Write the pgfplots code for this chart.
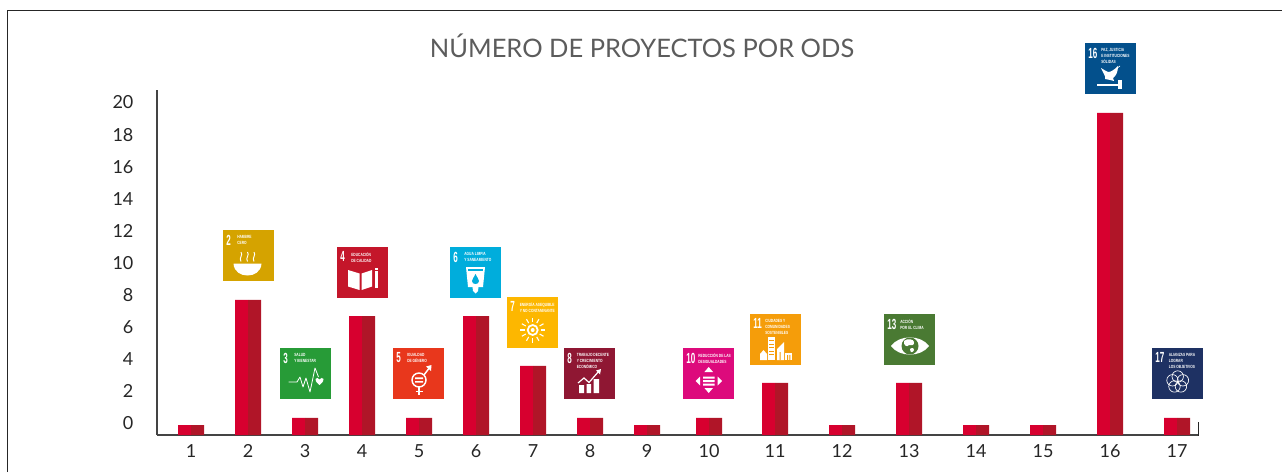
\documentclass[border=0pt]{standalone}
\usepackage{fontspec}
\setmainfont{Lato}
\newfontfamily\sdgf{Liberation Sans}[FakeStretch=0.72]
\newfontfamily\sdgn{Liberation Sans}[FakeStretch=0.55]
\usepackage{pgfplots}
\usepackage{pgfplotstable}
\pgfplotsset{compat=1.18}
\definecolor{barL}{HTML}{D7002F}
\definecolor{barR}{HTML}{B01528}
\definecolor{axisc}{HTML}{444444}
\definecolor{txt}{HTML}{262626}
\definecolor{ttl}{HTML}{5C5C5C}
\definecolor{sA}{HTML}{D5A300}
\definecolor{sB}{HTML}{279B37}
\definecolor{sC}{HTML}{C4162A}
\definecolor{sD}{HTML}{E8371C}
\definecolor{sE}{HTML}{00ADDC}
\definecolor{sF}{HTML}{FDB700}
\definecolor{sG}{HTML}{8F1733}
\definecolor{sH}{HTML}{DD0A7C}
\definecolor{sI}{HTML}{F59D0A}
\definecolor{sJ}{HTML}{4A7A33}
\definecolor{sK}{HTML}{03508C}
\definecolor{sL}{HTML}{1E3163}
\pgfplotstableread{
x v
191 0
248 7.79
305 0.44
362 6.79
419 0.44
476 6.79
533 3.68
590 0.44
647 0
709 0.44
775 2.62
842 0
909 2.62
976 0
1043 0
1110 19.44
1177 0.44
}\odsdata
% one SDG tile: x, y (image pixels), colour, number, offset of the label, label, glyph
\newcommand{\sdg}[7]{%
\begin{scope}[shift={(#1,#2)}]
\fill[#3] (0,0) rectangle (51,51);
\node[anchor=north west,inner sep=0pt,text=white,font=\sdgn\bfseries\fontsize{11}{11}\selectfont] at (3,4.5) {#4};
\node[anchor=north west,inner sep=0pt,text=white,align=left,font=\sdgf\bfseries\fontsize{3.4}{4.5}\selectfont] at (#5,5) {#6};
#7
\end{scope}}
\begin{document}
\begin{tikzpicture}
\useasboundingbox (0,0) rectangle (961.5pt,354pt);
\begin{axis}[
  at={(117.75pt,27.75pt)},anchor=south west,
  scale only axis,width=781.5pt,height=258.75pt,
  clip=false,
  axis x line=bottom,axis y line=left,
  axis line style={-,draw=axisc,line width=1.2pt},
  y coord trafo/.code={\pgfmathparse{#1+0.623}},
  xmin=157,xmax=1199,ymin=-0.623,ymax=20.87,
  ybar,bar width=9.75pt,
  major tick length=0pt,
  xtick={191,248,305,362,419,476,533,590,647,709,775,842,909,976,1043,1110,1177},
  xticklabels={1,2,3,4,5,6,7,8,9,10,11,12,13,14,15,16,17},
  ytick={0,2,4,6,8,10,12,14,16,18,20},
  yticklabels={0,2,4,6,8,10,12,14,16,18,20},
  x tick label style={anchor=north,inner sep=0pt,yshift=-6.75pt,font=\fontsize{13.5}{14}\selectfont,text=txt},
  y tick label style={anchor=east,inner sep=0pt,xshift=-17.5pt,yshift=1.1pt,font=\fontsize{13.5}{14}\selectfont,text=txt},
]
\addplot[draw=none,fill=barL,bar shift=-4.875pt] table[x=x,y=v] {\odsdata};
\addplot[draw=none,fill=barR,bar shift=4.875pt] table[x=x,y=v] {\odsdata};
\end{axis}
\begin{scope}[x=0.75pt,y=-0.75pt,shift={(0pt,354pt)}]
\draw[txt,line width=0.9pt] (7.5,472)--(7.5,10.5)--(1282,10.5);
\draw[txt,line width=0.8pt] (1198.5,422)--(1198.5,435.5);
\node[text=ttl,font=\fontsize{19.1}{21}\selectfont] at (642,46) {NÚMERO DE PROYECTOS POR ODS};
\sdg{223}{230}{sA}{2}{14}{HAMBRE\\CERO}{%
 \fill[white] (10.5,33.5) .. controls (11,42) and (18,45.5) .. (24.5,45.5) .. controls (31,45.5) and (38,42) .. (38.5,33.5) -- cycle;
 \foreach \q in {18,24.5,31}{\draw[white,line width=0.7pt] (\q,22) .. controls (\q+2.5,25) and (\q-2.5,28) .. (\q,31.5);}}
\sdg{280}{348}{sB}{3}{14}{SALUD\\Y BIENESTAR}{%
 \draw[white,line width=0.6pt,line join=round] (8.7,34)--(17,34)--(20,29)--(23,39)--(26,30)--(30,44)--(35,20)--(38.5,29);
 \fill[white] (39.5,37) .. controls (36,34) and (35,32.5) .. (35.5,31) .. controls (36,29.5) and (38.5,29.5) .. (39.5,31.5) .. controls (40.5,29.5) and (43,29.5) .. (43.5,31) .. controls (44,32.5) and (43,34) .. (39.5,37) -- cycle;}
\sdg{337}{247}{sC}{4}{14}{EDUCACIÓN\\DE CALIDAD}{%
 \fill[white] (11,23)--(22.5,26.5)--(22.5,43)--(11,39.5)--cycle;
 \fill[white] (24.5,26.5)--(35,23)--(35,39.5)--(24.5,43)--cycle;
 \fill[white] (37.5,24) rectangle (40.5,41);
 \fill[white] (37.5,21) rectangle (40.5,23);}
\sdg{393}{348}{sD}{5}{14}{IGUALDAD\\DE GÉNERO}{%
 \draw[white,line width=1.1pt] (26,32) circle [radius=7];
 \draw[white,line width=1.1pt] (26,39)--(26,47) (22.5,43.5)--(29.5,43.5);
 \draw[white,line width=1.1pt] (31,27)--(37,19);
 \fill[white] (38.5,17)--(33,18.5)--(38,23)--cycle;
 \fill[white] (22,29.3) rectangle (30,31) (22,33) rectangle (30,34.7);}
\sdg{450}{247}{sE}{6}{14}{AGUA LIMPIA\\Y SANEAMIENTO}{%
 \fill[white] (16,20)--(35,20)--(33,40)--(28.5,40)--(28,44)--(25.5,46.5)--(23,44)--(22.5,40)--(18,40)--cycle;
 \fill[sE] (18,22) rectangle (33,23.5);
 \fill[sE] (25.5,27) .. controls (27,30.5) and (29,32) .. (29,34) .. controls (29,38) and (22,38) .. (22,34) .. controls (22,32) and (24,30.5) .. (25.5,27) -- cycle;}
\sdg{507}{297}{sF}{7}{12.5}{ENERGÍA ASEQUIBLE\\Y NO CONTAMINANTE}{%
 \draw[white,line width=1.3pt] (25.7,33) circle [radius=5];
 \fill[white] (25.7,33) circle [radius=2];
 \foreach \a in {0,30,...,330}{\draw[white,line width=0.8pt] ({25.7+8*cos(\a)},{33+8*sin(\a)})--({25.7+12.5*cos(\a)},{33+12.5*sin(\a)});}}
\sdg{564}{348}{sG}{8}{12.5}{TRABAJO DECENTE\\Y CRECIMIENTO\\ECONÓMICO}{%
 \fill[white] (15,37) rectangle (20,45) (22.5,36) rectangle (27,45) (29.5,31) rectangle (35,45);
 \draw[white,line width=0.9pt] (14,35)--(20,30)--(25,34.5)--(35,23);
 \fill[white] (37,21)--(32,22.5)--(36,26.5)--cycle;}
\sdg{683}{348}{sH}{10}{15}{REDUCCIÓN DE LAS\\DESIGUALDADES}{%
 \fill[white] (20,28.5) rectangle (31.5,30.5) (20,32) rectangle (31.5,34) (20,35.5) rectangle (31.5,37.5);
 \fill[white] (25.7,19)--(30,24)--(21.4,24)--cycle (25.7,45)--(30,40)--(21.4,40)--cycle;
 \fill[white] (12.5,33)--(17,28.5)--(17,37.5)--cycle (39,33)--(34.5,28.5)--(34.5,37.5)--cycle;}
\sdg{750}{314}{sI}{11}{15}{CIUDADES Y\\COMUNIDADES\\SOSTENIBLES}{%
 \fill[white] (18,23) rectangle (25,46);
 \fill[white] (10,46)--(10,40)--(13.5,36)--(17,40)--(17,46)--cycle;
 \fill[white] (27,46)--(27,35)--(34,28)--(34,46)--cycle;
 \fill[white] (35,39) rectangle (42,46);
 \foreach \q in {26,29.5,33,36.5,40}{\fill[sI] (19.3,\q) rectangle (23.7,\q+1.1);}
 \fill[sI] (37,41) rectangle (38,46) (39.3,41) rectangle (40.3,46) (29.5,38) rectangle (30.5,46);}
\sdg{884}{314}{sJ}{13}{16}{ACCIÓN\\POR EL CLIMA}{%
 \fill[white] (7,32) .. controls (15,20.5) and (37,20.5) .. (45,32) .. controls (37,43.5) and (15,43.5) .. (7,32) -- cycle;
 \fill[sJ] (26,32) circle [radius=8.5];
 \fill[white] (20,27) .. controls (23,24) and (30,25) .. (30,28) .. controls (31,31) and (27,32) .. (25,31) .. controls (23,34) and (19,31) .. (20,27) -- cycle;
 \fill[white] (26,35) .. controls (28,33) and (31,34) .. (30,36) .. controls (29,39) and (26,39) .. (26,35) -- cycle;}
\sdg{1085}{43}{sK}{16}{16}{PAZ, JUSTICIA\\E INSTITUCIONES\\SÓLIDAS}{%
 \fill[white] (16,25) .. controls (19,27) and (21,28) .. (23,29) .. controls (26,29) and (29,27) .. (33,23) .. controls (33,29) and (31,33) .. (28,35) -- (29,38) -- (25,37) -- (20,36) .. controls (21,33) and (18,30) .. (16,25) -- cycle;
 \draw[white,line width=0.5pt] (31,26)--(35,23);
 \fill[white] (12,41.5) rectangle (33,43);
 \fill[white] (32.5,37.5) rectangle (36.5,46.5);}
\sdg{1152}{348}{sL}{17}{16.5}{ALIANZAS PARA\\LOGRAR\\LOS OBJETIVOS}{%
 \foreach \a in {90,162,234,306,18}{\draw[white,line width=0.5pt] ({25.7+5.5*cos(\a)},{34-5.5*sin(\a)}) circle [radius=5.7];}}
\end{scope}
\end{tikzpicture}
\end{document}
